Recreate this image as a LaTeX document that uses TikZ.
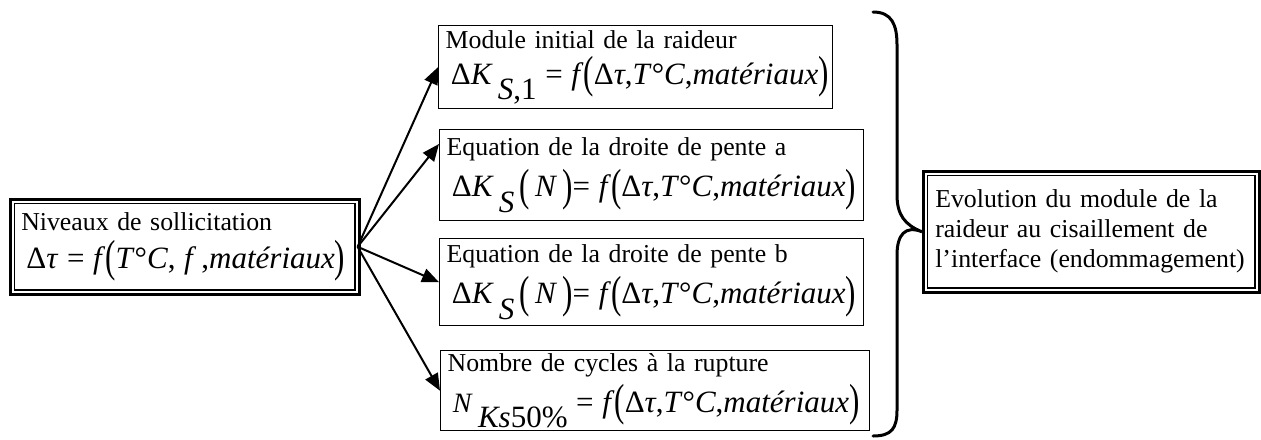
\documentclass[tikz,border=0pt]{standalone}
\usepackage{fontspec}
\setmainfont{Liberation Serif}
\usetikzlibrary{arrows.meta, positioning}

\newcommand{\eqsize}{\fontsize{15.5}{18}\selectfont}
\newcommand{\lowsub}[1]{\raisebox{-0.5em}{#1}}
\newcommand{\lp}{\raisebox{-0.12em}{\scalebox{1}[1.45]{(}}}
\newcommand{\rp}{\raisebox{-0.12em}{\scalebox{1}[1.45]{)}}}
\newcommand{\fdt}{\textit{f}\lp Δ\textit{τ},\textit{T}°\textit{C},\textit{matériaux}\rp}

\begin{document}
\begin{tikzpicture}[
    x=0.5pt, y=-0.5pt,
    font=\fontsize{12.9}{15}\selectfont,
    box/.style={draw, line width=0.7pt, anchor=north west, align=left, inner xsep=3.5pt, inner ysep=0pt},
    dbox/.style={draw, line width=1.3pt, anchor=north west, align=left, inner xsep=5.5pt, inner ysep=0pt},
    arr/.style={line width=1pt, -{Triangle[length=8.5pt, width=7pt]}},
    brace line/.style={line width=1.5pt, line cap=round}
]
    \useasboundingbox (0,0) rectangle (1261,439);

    % Source
    \node[dbox, text width=163.5pt, minimum height=47.5pt] (lvl) at (9,198)
        {Niveaux de sollicitation\\[4pt]
         \mbox{\eqsize\,Δ\textit{τ} = \textit{f}\lp\textit{T}°\textit{C}, \textit{f}\,,\textit{matériaux}\rp}};

    % Intermediate results
    \node[box, text width=190pt, minimum height=41.5pt] (b1) at (438,25)
        {Module initial de la raideur\\[3pt]
         \mbox{\eqsize\,Δ\textit{K}\,\lowsub{\textit{S},1} = \fdt}};
    \node[box, text width=205pt, minimum height=45.5pt] (b2) at (439,129)
        {Equation de la droite de pente a\\[3pt]
         \mbox{\eqsize\,Δ\textit{K}\,\lowsub{\textit{S}}\,\lp\,\textit{N}\,\rp= \fdt}};
    \node[box, text width=205pt, minimum height=43.5pt] (b3) at (439,238)
        {Equation de la droite de pente b\\[3pt]
         \mbox{\eqsize\,Δ\textit{K}\,\lowsub{\textit{S}}\,\lp\,\textit{N}\,\rp= \fdt}};
    \node[box, text width=207.5pt, minimum height=40pt] (b4) at (440,350)
        {Nombre de cycles à la rupture\\[3pt]
         \mbox{\eqsize\,{\fontsize{14}{16}\selectfont\textit{N}}\,\lowsub{\textit{Ks}50\%} = \fdt}};

    % Result
    \node[dbox, inner xsep=6pt, text width=156pt, minimum height=60.5pt] (ev) at (922,170)
        {Evolution du module de la\\raideur au cisaillement de\\l’interface (endommagement)};

    % Inner lines of the double frames
    \foreach \n in {lvl, ev}
        \draw[line width=0.8pt] ([shift={(2.75pt,-2.75pt)}]\n.north west) rectangle ([shift={(-2.75pt,2.75pt)}]\n.south east);

    % Arrows
    \coordinate (src) at ([xshift=-1.5pt]lvl.east);
    \draw[arr] (src) -- (b1.west);
    \draw[arr] (src) -- ([yshift=-7.5pt]b2.north west);
    \draw[arr] (src) -- (b3.west);
    \draw[arr] (src) -- (b4.west);

    % Brace
    \draw[brace line] (873,12) .. controls (892,12) and (897,25) .. (897,45)
        -- (897,195) .. controls (897,215) and (905,225) .. (ev.west)
        .. controls (905,225) and (897,235) .. (897,255)
        -- (897,410) .. controls (897,428) and (892,436) .. (873,436);
\end{tikzpicture}
\end{document}
